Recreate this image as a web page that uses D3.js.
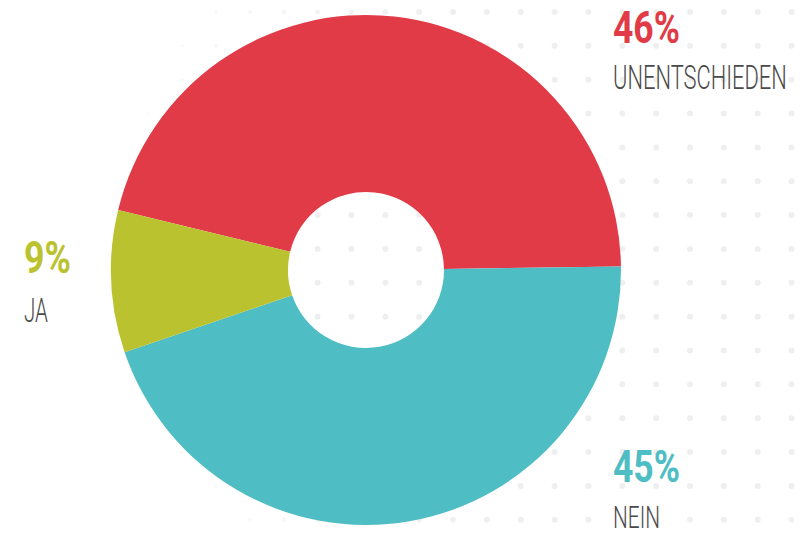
<!DOCTYPE html>
<html>
<head>
<meta charset="utf-8">
<script src="https://cdn.jsdelivr.net/npm/d3@7"></script>
<style>
  html, body { margin: 0; padding: 0; background: #ffffff; }
  svg { display: block; }
</style>
</head>
<body>
<svg id="chart" width="807" height="536"></svg>
<script>
// ---- data ----
const categories = ["UNENTSCHIEDEN", "NEIN", "JA"];
const values = [46, 45, 9];
const percentLabels = ["46%", "45%", "9%"];
const colors = ["#e13b48", "#4fbec4", "#bbc22f"];

// ---- setup ----
const W = 807, H = 536;
const svg = d3.select("#chart");

// background dot grid, fading towards the lower-left
const gx = d3.range(0, 24).map(i => 13 + i * 33.85);
const gy = d3.range(0, 16).map(j => 12 + j * 33.85);
const fade = d3.scaleLinear().domain([330, 505]).range([1, 0]).clamp(true);
const dots = [];
gx.forEach(x => gy.forEach(y => {
  const d = Math.hypot((x - 620) * 1.0, (y - 250) * 1.12);
  const o = fade(d);
  if (o > 0.02) dots.push({x, y, o});
}));
svg.append("g").selectAll("circle").data(dots).join("circle")
  .attr("cx", d => d.x).attr("cy", d => d.y)
  .attr("r", d => 1.6 + 1.4 * d.o)
  .attr("fill", "#efefef")
  .attr("fill-opacity", d => 0.35 + 0.65 * d.o);

// donut
const cx = 366, cy = 270;
const pie = d3.pie().sort(null)
  .startAngle(-76.4 * Math.PI / 180)
  .endAngle((360 - 76.4) * Math.PI / 180);
const arcs = pie(values);
const arc = d3.arc().innerRadius(78).outerRadius(255);

svg.append("g").attr("transform", `translate(${cx},${cy})`)
  .selectAll("path").data(arcs).join("path")
  .attr("d", arc)
  .attr("fill", (d, i) => colors[i]);

// labels (condensed by horizontal scaling)
const labelPos = [
  {x: 613, yPct: 43, yName: 89, wPct: 67, wName: 174, sName: 34},
  {x: 613, yPct: 482, yName: 527.5, wPct: 67, wName: 47, sName: 32},
  {x: 24,  yPct: 273, yName: 321.5, wPct: 47, wName: 24, sName: 34}
];
const lg = svg.append("g");
function condensed(txt, x, y, w, opts) {
  const t = lg.append("text")
    .attr("x", 0).attr("y", 0)
    .attr("font-family", "Roboto, 'Open Sans', sans-serif")
    .attr("font-weight", opts.weight)
    .attr("font-size", opts.size)
    .attr("fill", opts.fill)
    .text(txt);
  const nat = t.node().getComputedTextLength();
  t.attr("transform", `translate(${x},${y}) scale(${w / nat},1)`);
}
categories.forEach((c, i) => {
  const p = labelPos[i];
  condensed(percentLabels[i], p.x, p.yPct, p.wPct, {weight: 700, size: 45, fill: colors[i]});
  condensed(c, p.x, p.yName, p.wName, {weight: 300, size: p.sName, fill: "#4a4a4a"});
});
</script>
</body>
</html>
